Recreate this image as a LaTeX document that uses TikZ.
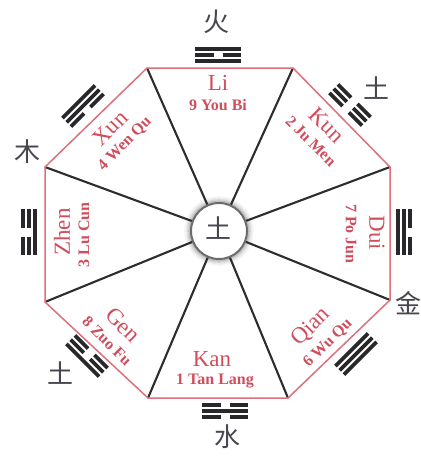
\documentclass[tikz,border=0pt]{standalone}
\usepackage{fontspec}
\setmainfont{Liberation Serif}
\newfontfamily\cjk{Noto Sans CJK SC}
\definecolor{lred}{RGB}{208,78,92}
\definecolor{ered}{RGB}{220,112,124}
\definecolor{spk}{RGB}{45,45,48}
\definecolor{hz}{RGB}{70,70,78}
\definecolor{trig}{RGB}{40,40,42}
\newcommand{\trline}[2]{\ifnum#2=1 \draw[trig,line width=3.8pt] (-23pt,#1pt) -- (23pt,#1pt);\else \draw[trig,line width=3.8pt] (-23pt,#1pt) -- (-4.5pt,#1pt) (4.5pt,#1pt) -- (23pt,#1pt);\fi}
\tikzset{
  pics/trigram/.style n args={3}{code={\trline{-6}{#1}\trline{0}{#2}\trline{6}{#3}}},
  nm/.style={text=lred, inner sep=0pt, font=\fontsize{23}{23}\selectfont},
  sb/.style={text=lred, inner sep=0pt, font=\bfseries\fontsize{16}{16}\selectfont},
  cjkc/.style={text=hz, inner sep=0pt, font=\cjk\fontsize{26}{26}\selectfont},
  edgeline/.style={draw=ered, line width=1.5pt},
  spoke/.style={draw=spk, line width=2.1pt}
}
\begin{document}
\begin{tikzpicture}[x=1pt,y=-1pt]
\useasboundingbox (0,0) rectangle (421,456);
\fill[white] (0,0) rectangle (421,456);
% vertices
\coordinate (v1) at (147,68);
\coordinate (v2) at (293,68);
\coordinate (v3) at (390,167);
\coordinate (v4) at (390,300);
\coordinate (v5) at (288,398);
\coordinate (v6) at (148,398);
\coordinate (v7) at (45,302);
\coordinate (v8) at (45,167);
\coordinate (cc) at (219,231);
% halo
\foreach \r/\o in {29.5/0.5,31/0.3,32.5/0.15,34/0.07}
  \draw[gray, line width=1.6pt, opacity=\o] (cc) circle (\r pt);
\node[circle, minimum size=56pt, inner sep=0pt, draw=gray!85!black, line width=2pt, fill=white] (c) at (cc) {};
\foreach \v in {v1,v2,v3,v4,v5,v6,v7,v8}
  \draw[spoke] (c) -- (\v);
\draw[edgeline] (v1) -- (v2) -- (v3) -- (v4) -- (v5) -- (v6) -- (v7) -- (v8) -- cycle;
\node[cjkc] (tuc) at (218,228) {土};
% sector labels
\node[nm] (li) at (218,83) {Li};
\node[sb] (lis) at (218,105) {9 You Bi};
\node[nm, rotate=-45] (kun) at (327,125) {Kun};
\node[sb, rotate=-45] (kuns) at (311,141) {2 Ju Men};
\node[nm, rotate=-90] (dui) at (377,233) {Dui};
\node[sb, rotate=-90] (duis) at (351,234) {7 Po Jun};
\node[nm, rotate=45] (qian) at (311,327) {Qian};
\node[sb, rotate=45] (qians) at (328,343) {6 Wu Qu};
\node[nm] (kan) at (212,359) {Kan};
\node[sb] (kans) at (215,381) {1 Tan Lang};
\node[nm, rotate=-45] (gen) at (123,325) {Gen};
\node[sb, rotate=-45] (gens) at (107,341) {8 Zuo Fu};
\node[nm, rotate=90] (zhen) at (62,232) {Zhen};
\node[sb, rotate=90] (zhens) at (84,235) {3 Lu Cun};
\node[nm, rotate=45] (xun) at (110,128) {Xun};
\node[sb, rotate=45] (xuns) at (125,144) {4 Wen Qu};
% trigrams
\pic[rotate=0] at (218,55) {trigram={1}{0}{1}};
\pic[rotate=-45] at (350,105) {trigram={0}{0}{0}};
\pic[rotate=-90] at (404,232) {trigram={1}{1}{0}};
\pic[rotate=-135] at (356,354) {trigram={1}{1}{1}};
\pic[rotate=180] at (225,411) {trigram={0}{1}{0}};
\pic[rotate=135] at (87,356) {trigram={0}{0}{1}};
\pic[rotate=90] at (29,232) {trigram={1}{0}{0}};
\pic[rotate=45] at (83,106) {trigram={0}{1}{1}};
% elements
\node[cjkc] (huo) at (216,22) {火};
\node[cjkc] (tu1) at (376,88) {土};
\node[cjkc] (jin) at (408,303) {金};
\node[cjkc] (shui) at (227,437) {水};
\node[cjkc] (tu2) at (61,373) {土};
\node[cjkc] (mu) at (27,152) {木};
\end{tikzpicture}
\end{document}
